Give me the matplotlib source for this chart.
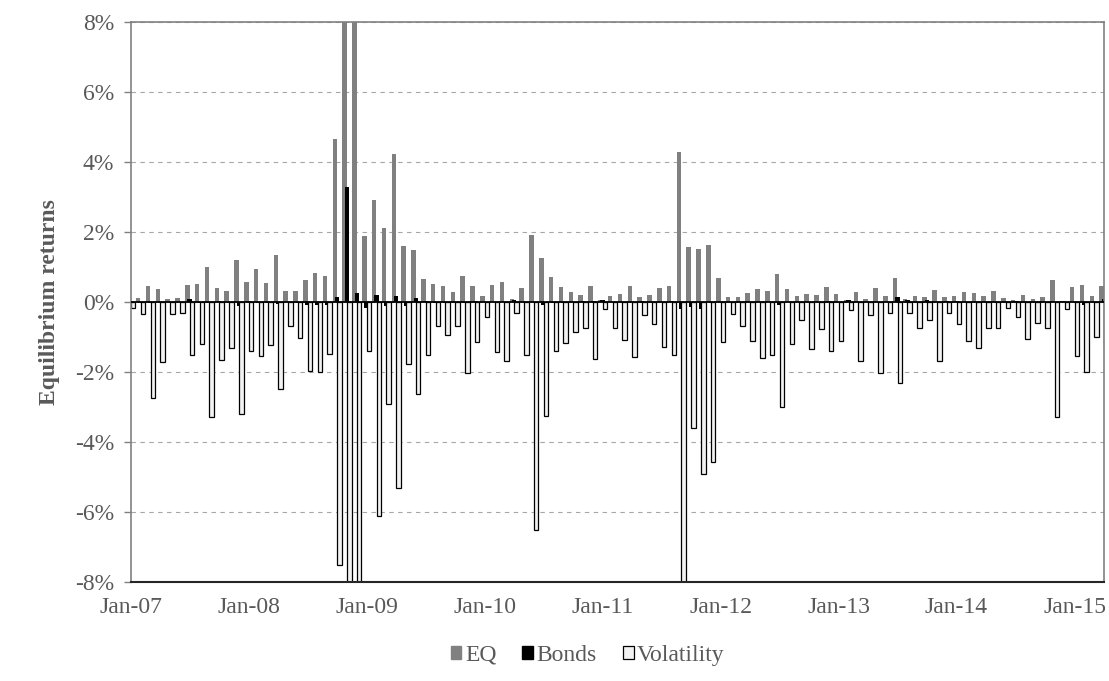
import numpy as np
import matplotlib
matplotlib.use('Agg')
import matplotlib.pyplot as plt
from matplotlib.patches import Patch

# monthly values in %, Jan-07 .. Apr-15 (100 months)
eq = [0.05, 0.12, 0.46, 0.37, 0.09, 0.12, 0.48, 0.51, 1.00, 0.39,
      0.32, 1.18, 0.56, 0.93, 0.54, 1.34, 0.32, 0.32, 0.62, 0.82,
      0.74, 4.66, 10.5, 9.8, 1.87, 2.90, 2.10, 4.21, 1.60, 1.49,
      0.64, 0.51, 0.46, 0.28, 0.74, 0.46, 0.17, 0.48, 0.57, 0.09,
      0.39, 1.90, 1.26, 0.70, 0.43, 0.28, 0.20, 0.46, 0.04, 0.17,
      0.23, 0.46, 0.14, 0.20, 0.39, 0.46, 4.28, 1.57, 1.51, 1.63,
      0.68, 0.13, 0.13, 0.24, 0.37, 0.32, 0.79, 0.37, 0.15, 0.23,
      0.20, 0.43, 0.23, 0.04, 0.28, 0.09, 0.39, 0.17, 0.68, 0.09,
      0.17, 0.14, 0.34, 0.14, 0.17, 0.28, 0.25, 0.17, 0.32, 0.12,
      0.04, 0.20, 0.09, 0.14, 0.62, 0.03, 0.43, 0.48, 0.17, 0.46]

bonds = [0.0, -0.03, -0.04, -0.02, 0.0, 0.0, 0.09, -0.04, -0.05, 0.02,
         -0.05, -0.12, 0.02, -0.05, -0.05, -0.06, 0.0, -0.03, -0.10, -0.10,
         -0.10, 0.14, 3.28, 0.26, -0.19, 0.20, -0.12, 0.17, -0.12, 0.11,
         0.02, -0.05, -0.05, 0.0, -0.03, 0.02, 0.0, -0.02, -0.02, 0.04,
         -0.02, -0.02, -0.10, -0.03, -0.03, 0.0, 0.02, 0.02, 0.05, -0.02,
         0.0, 0.0, 0.03, 0.0, 0.0, 0.03, -0.20, -0.15, -0.22, -0.05,
         0.0, 0.0, 0.0, 0.0, 0.0, 0.0, -0.08, 0.0, 0.0, 0.0,
         0.0, 0.02, 0.0, 0.04, 0.0, 0.0, 0.0, 0.0, 0.14, 0.06,
         0.0, 0.06, 0.0, 0.03, 0.02, 0.0, 0.0, 0.0, 0.0, 0.0,
         0.02, 0.0, 0.0, 0.0, 0.0, 0.0, 0.0, -0.08, 0.0, 0.09]

vol = [-0.19, -0.36, -2.75, -1.73, -0.34, -0.31, -1.53, -1.22, -3.28, -1.66,
       -1.31, -3.20, -1.42, -1.55, -1.25, -2.48, -0.70, -1.04, -1.97, -2.02,
       -1.49, -7.51, -10.2, -9.6, -1.41, -6.12, -2.92, -5.32, -1.78, -2.64,
       -1.51, -0.70, -0.95, -0.68, -2.03, -1.15, -0.43, -1.45, -1.69, -0.32,
       -1.53, -6.51, -3.26, -1.42, -1.19, -0.86, -0.75, -1.64, -0.20, -0.74,
       -1.08, -1.58, -0.38, -0.63, -1.28, -1.51, -9.0, -3.62, -4.92, -4.57,
       -1.14, -0.36, -0.70, -1.11, -1.62, -1.51, -3.00, -1.20, -0.52, -1.35,
       -0.78, -1.40, -1.11, -0.25, -1.68, -0.38, -2.05, -0.33, -2.33, -0.33,
       -0.75, -0.52, -1.68, -0.33, -0.63, -1.11, -1.33, -0.74, -0.74, -0.19,
       -0.43, -1.06, -0.61, -0.74, -3.28, -0.20, -1.55, -2.00, -1.00, -1.23]

tick_labels = ['Jan-07', 'Jan-08', 'Jan-09', 'Jan-10', 'Jan-11',
               'Jan-12', 'Jan-13', 'Jan-14', 'Jan-15']

plt.rcParams['font.family'] = ['Liberation Serif', 'DejaVu Serif']

txt = '#595959'
fig = plt.figure(figsize=(11.09, 6.81), dpi=100)
ax = fig.add_axes([0.1179, 0.1458, 0.8776, 0.8223])

x = np.arange(len(eq))
w = 0.46
d = 0.24
ax.bar(x - d, eq, w, color='#808080', zorder=2)
ax.bar(x, bonds, w, color='black', zorder=2)
ax.bar(x + d, vol, w, facecolor='#F2F2F2', edgecolor='black', linewidth=0.9, zorder=2)
ax.axhline(0, color='black', linewidth=1.3, zorder=3)

ax.set_xlim(0, 99)
ax.set_ylim(-8, 8)
yt = np.arange(-8, 9, 2)
ax.set_yticks(yt)
ax.set_yticklabels([f'{v}%' for v in yt])
ax.set_xticks(np.arange(0, 97, 12))
ax.set_xticklabels(tick_labels)
ax.tick_params(axis='x', length=0, pad=11, labelsize=17, labelcolor=txt)
ax.tick_params(axis='y', length=5, width=1, color='#808080', pad=7,
               labelsize=17, labelcolor=txt)

ax.grid(axis='y', color='#A6A6A6', linestyle=(0, (4, 4)), linewidth=0.8)
ax.set_axisbelow(True)
for s in ['top', 'right', 'left']:
    ax.spines[s].set_color('#808080')
    ax.spines[s].set_linewidth(1.2)
ax.spines['bottom'].set_color('#262626')
ax.spines['bottom'].set_linewidth(1.5)

ax.set_ylabel('Equilibrium returns', fontsize=17, fontweight='bold', color=txt)
ax.yaxis.set_label_coords(-0.0726, 0.5)

handles = [Patch(facecolor='#808080', edgecolor='#808080'),
           Patch(facecolor='black', edgecolor='black'),
           Patch(facecolor='#F2F2F2', edgecolor='black', linewidth=0.9)]
leg = fig.legend(handles, ['EQ', 'Bonds', 'Volatility'], loc='center',
                 bbox_to_anchor=(0.53, 0.038), ncol=3, frameon=False,
                 fontsize=17, handlelength=0.45, handleheight=0.45,
                 handletextpad=0.15, columnspacing=1.1)
for t in leg.get_texts():
    t.set_color(txt)

fig.savefig('out.png', dpi=100)
